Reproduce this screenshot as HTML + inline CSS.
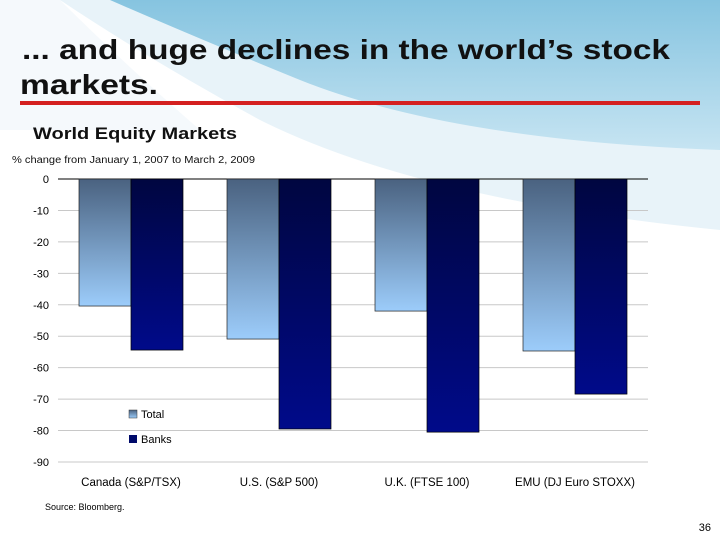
<!DOCTYPE html>
<html><head><meta charset="utf-8"><style>
html,body{margin:0;padding:0;width:720px;height:540px;overflow:hidden;background:#fff;font-family:"Liberation Sans",sans-serif}
svg text{font-family:"Liberation Sans",sans-serif}
</style></head><body>
<svg id="chart" width="720" height="540" xmlns="http://www.w3.org/2000/svg">
<defs>
<linearGradient id="gTot" x1="0" y1="0" x2="0" y2="1"><stop offset="0" stop-color="#4a6280"/><stop offset="1" stop-color="#9cccfa"/></linearGradient>
<linearGradient id="gBank" x1="0" y1="0" x2="0" y2="1"><stop offset="0" stop-color="#000640"/><stop offset="1" stop-color="#000a8a"/></linearGradient>
<linearGradient id="sky" x1="0" y1="0" x2="0" y2="1"><stop offset="0" stop-color="#86c4e0"/><stop offset="1" stop-color="#c6e4f2"/></linearGradient>
</defs>
<g>
<path d="M60,0 L720,0 L720,230 Q420,200 260,120 Q150,60 60,0 Z" fill="#e8f3f9"/>
<path d="M110,0 L720,0 L720,150 Q450,140 300,80 Q190,35 110,0 Z" fill="url(#sky)"/>
<path d="M0,0 L60,0 Q120,60 200,130 L0,130 Z" fill="#f2f8fb" opacity="0.8"/>
</g>
<text x="22" y="59" font-size="28" font-weight="bold" fill="#111" textLength="648" lengthAdjust="spacingAndGlyphs">... and huge declines in the world’s stock</text>
<text x="20" y="94" font-size="28" font-weight="bold" fill="#111" textLength="138" lengthAdjust="spacingAndGlyphs">markets.</text>
<rect x="20" y="101" width="680" height="4" fill="#d42020"/>
<text x="33" y="139" font-size="17" font-weight="bold" fill="#111" textLength="204" lengthAdjust="spacingAndGlyphs">World Equity Markets</text>
<text x="12" y="163" font-size="10" fill="#111" textLength="243" lengthAdjust="spacingAndGlyphs">% change from January 1, 2007 to March 2, 2009</text>
<g id="grid"></g><g id="bars"></g><g id="labels"></g>
<g>
<rect x="129" y="410" width="8" height="8" fill="url(#gTot)" stroke="#333" stroke-width="0.5"/>
<text x="141" y="418" font-size="11">Total</text>
<rect x="129" y="435" width="8" height="8" fill="#000a6a"/>
<text x="141" y="443" font-size="11">Banks</text>
</g>
<text x="45" y="510" font-size="9">Source: Bloomberg.</text>
<text x="711" y="531" font-size="11" text-anchor="end">36</text>
</svg>
<script>
const categories=["Canada (S&P/TSX)","U.S. (S&P 500)","U.K. (FTSE 100)","EMU (DJ Euro STOXX)"];
const totalValues=[-40.4,-50.9,-42.0,-54.7];
const bankValues=[-54.4,-79.5,-80.5,-68.4];
const yTicks=[0,-10,-20,-30,-40,-50,-60,-70,-80,-90];
const NS="http://www.w3.org/2000/svg";
const y0=179,y1=462,xL=58,xR=648;
function y(v){return y0+(v/-90)*(y1-y0);}
function xg(i){return 79+i*148;}
function mk(t,a,p){const e=document.createElementNS(NS,t);for(const k in a)e.setAttribute(k,a[k]);p.appendChild(e);return e;}
const grid=document.getElementById('grid'),bars=document.getElementById('bars'),labels=document.getElementById('labels');
yTicks.forEach(v=>{
  const l=mk('line',{x1:xL,x2:xR,y1:y(v),y2:y(v),stroke:v===0?'#000':'#c8c8c8','stroke-width':1},grid);
  
  
  const t=mk('text',{x:49,y:y(v)+4,'font-size':11,'text-anchor':'end'},labels);
  t.textContent=v;
  
  
});
categories.forEach((c,i)=>{
  const x=xg(i);
  const r1=mk('rect',{x:x,y:y(0),width:52,height:y(totalValues[i])-y(0),fill:'url(#gTot)',stroke:'#222','stroke-width':0.7},bars);
  
  
  const r2=mk('rect',{x:x+52,y:y(0),width:52,height:y(bankValues[i])-y(0),fill:'url(#gBank)',stroke:'#000','stroke-width':0.7},bars);
  
  
  const t=mk('text',{x:x+52,y:486,'font-size':11.5,'text-anchor':'middle'},labels);
  t.textContent=c;
  
  
});
</script>
</body></html>
